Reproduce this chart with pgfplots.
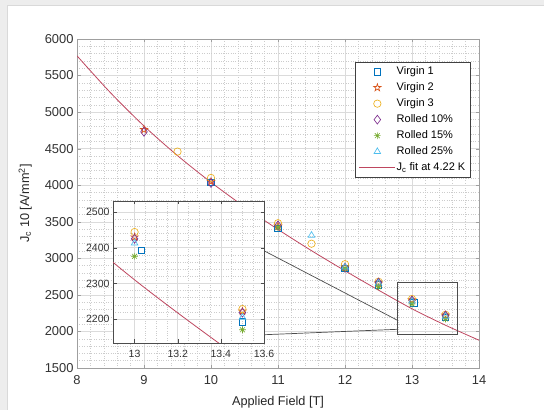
\documentclass[border=0pt]{standalone}
\usepackage{fontspec}
\setmainfont{Liberation Sans}
\usepackage{pgfplots}
\usepackage{pgfplotstable}
\pgfplotsset{compat=1.18}
\usetikzlibrary{plotmarks}

\definecolor{cA}{rgb}{0,0.447,0.741}
\definecolor{cB}{rgb}{0.85,0.325,0.098}
\definecolor{cC}{rgb}{0.929,0.694,0.125}
\definecolor{cD}{rgb}{0.494,0.184,0.556}
\definecolor{cE}{rgb}{0.466,0.674,0.188}
\definecolor{cF}{rgb}{0.301,0.745,0.933}
\definecolor{cFit}{RGB}{190,70,95}

\pgfdeclareplotmark{pentagram}{%
 \pgfpathmoveto{\pgfpointpolar{90}{1.25\pgfplotmarksize}}%
 \pgfpathlineto{\pgfpointpolar{126}{0.48\pgfplotmarksize}}%
 \pgfpathlineto{\pgfpointpolar{162}{1.25\pgfplotmarksize}}%
 \pgfpathlineto{\pgfpointpolar{198}{0.48\pgfplotmarksize}}%
 \pgfpathlineto{\pgfpointpolar{234}{1.25\pgfplotmarksize}}%
 \pgfpathlineto{\pgfpointpolar{270}{0.48\pgfplotmarksize}}%
 \pgfpathlineto{\pgfpointpolar{306}{1.25\pgfplotmarksize}}%
 \pgfpathlineto{\pgfpointpolar{342}{0.48\pgfplotmarksize}}%
 \pgfpathlineto{\pgfpointpolar{18}{1.25\pgfplotmarksize}}%
 \pgfpathlineto{\pgfpointpolar{54}{0.48\pgfplotmarksize}}%
 \pgfpathclose
 \pgfusepathqstroke
}
\pgfdeclareplotmark{mast}{%
 \pgfpathmoveto{\pgfqpoint{-\pgfplotmarksize}{0pt}}\pgfpathlineto{\pgfqpoint{\pgfplotmarksize}{0pt}}%
 \pgfpathmoveto{\pgfqpoint{0pt}{-\pgfplotmarksize}}\pgfpathlineto{\pgfqpoint{0pt}{\pgfplotmarksize}}%
 \pgfpathmoveto{\pgfpointpolar{45}{\pgfplotmarksize}}\pgfpathlineto{\pgfpointpolar{225}{\pgfplotmarksize}}%
 \pgfpathmoveto{\pgfpointpolar{135}{\pgfplotmarksize}}\pgfpathlineto{\pgfpointpolar{315}{\pgfplotmarksize}}%
 \pgfusepathqstroke
}

\pgfplotstableread{
x y
10 4040
11 3410
12 2860
12.5 2640
13.03 2392
13.5 2192
}\vone
\pgfplotstableread{
x y
9 4760
10 4050
11 3440
12 2880
12.5 2660
13 2430
13.5 2222
}\vtwo
\pgfplotstableread{
x y
9.5 4460
10 4100
11 3480
11.5 3200
12 2920
12.5 2680
13 2444
13.5 2228
}\vthree
\pgfplotstableread{
x y
9 4730
10 4030
11 3450
12 2870
12.5 2670
13 2425
13.5 2218
}\rten
\pgfplotstableread{
x y
11 3420
12 2860
12.5 2612
13 2376
13.5 2170
}\rfifteen
\pgfplotstableread{
x y
11.5 3315
12 2880
12.5 2660
13 2413
13.5 2205
}\rtwentyfive
\pgfplotstableread{
x y
8 5770
8.5 5265
9 4810
9.5 4405
10 4040
10.5 3705
11 3395
11.5 3105
12 2830
12.5 2565
13 2310
13.5 2085
14 1880
}\fit

\pgfplotsset{
  myplots/.style={
    /pgf/number format/assume math mode=true,
    /pgf/number format/1000 sep={},
    scale only axis,
    tick align=inside,
    minor tick length=0pt,
    major tick length=3.5pt,
    grid=both,
    major grid style={gray!28, line width=0.5pt},
    minor grid style={gray!40, dotted, line width=0.5pt},
    tick label style={text=black!80},
  },
  mA/.style={only marks, mark=square, mark size=3.2pt, cA, mark options={solid, line width=0.65pt}},
  mB/.style={only marks, mark=pentagram, mark size=3.1pt, cB, mark options={solid, line width=0.65pt}},
  mC/.style={only marks, mark=o, mark size=3.7pt, cC, mark options={solid, line width=0.65pt}},
  mD/.style={only marks, mark=diamond, mark size=4.4pt, cD, mark options={solid, line width=0.65pt}},
  mE/.style={only marks, mark=mast, mark size=3.4pt, cE, mark options={solid, line width=0.65pt}},
  mF/.style={only marks, mark=triangle, mark size=3.8pt, cF, mark options={solid, line width=0.65pt}},
  mFit/.style={no marks, smooth, color=cFit, line width=0.8pt},
}

\begin{document}
\begin{tikzpicture}
\useasboundingbox (0pt,0pt) rectangle (544pt,410pt);
\fill[gray!14] (0pt,0pt) rectangle (544pt,410pt);
\fill[white] (7.5pt,0pt) rectangle (544pt,404.5pt);
\draw[gray!30, line width=0.6pt] (7.5pt,0pt) -- (7.5pt,404.5pt) -- (544pt,404.5pt);

\begin{axis}[
  myplots,
  at={(77pt,42pt)}, anchor=south west,
  width=402pt, height=329pt,
  xmin=8, xmax=14, ymin=1500, ymax=6000,
  xtick={8,9,...,14}, ytick={1500,2000,...,6000},
  minor x tick num=4, minor y tick num=4,
  axis line style={gray!75},
  tick style={gray!75},
  tick label style={font=\fontsize{12.9}{14}\selectfont},
  xticklabel style={yshift=-4pt},
  xlabel={Applied Field [T]},
  ylabel={J\textsubscript{c} 10 [A/mm\textsuperscript{2}]},
  label style={font=\fontsize{12.7}{14}\selectfont, text=black!85},
  xlabel style={at={(axis description cs:0.5,-0.103)}, anchor=center},
  ylabel style={at={(axis description cs:-0.129,0.5)}, anchor=center},
  legend image code/.code={\draw[mark repeat=2,mark phase=2,#1] plot coordinates {(0pt,0pt) (18pt,0pt) (36pt,0pt)};},
  legend style={at={(axis description cs:0.9776,0.931)}, anchor=north east,
    font=\fontsize{11}{13}\selectfont, draw=black!75, fill=white,
    inner sep=3.5pt, row sep=3.5pt,
    nodes={inner sep=1pt, text height=8pt, text depth=2.5pt}},
  legend cell align=left,
]
\addplot[mA] table {\vone};
\addlegendentry{Virgin 1}
\addplot[mB] table {\vtwo};
\addlegendentry{Virgin 2}
\addplot[mC] table {\vthree};
\addlegendentry{Virgin 3}
\addplot[mD] table {\rten};
\addlegendentry{Rolled 10\%}
\addplot[mE] table {\rfifteen};
\addlegendentry{Rolled 15\%}
\addplot[mF] table {\rtwentyfive};
\addlegendentry{Rolled 25\%}
\addplot[mFit, legend image code/.code={\draw[draw=cFit, line width=0.8pt] (0pt,0pt) -- (36pt,0pt);}] table {\fit};
\addlegendentry{J\textsubscript{c} fit at 4.22 K}
\draw[black!70, line width=0.7pt] (axis cs:12.776,1955) rectangle (axis cs:13.676,2667);
\draw[black!70, line width=0.7pt] (axis cs:10.79,3104) -- (axis cs:12.776,2156);
\draw[black!70, line width=0.7pt] (axis cs:10.79,1955) -- (axis cs:12.776,2029);
\end{axis}

\begin{axis}[
  myplots,
  at={(113pt,67pt)}, anchor=south west,
  width=151pt, height=142pt,
  xmin=12.9, xmax=13.6, ymin=2133, ymax=2531,
  xtick={13,13.2,13.4,13.6}, ytick={2200,2300,2400,2500},
  minor x tick num=3, minor y tick num=4,
  axis background/.style={fill=white},
  axis line style={black!70, line width=0.7pt},
  tick style={black!70},
  tick label style={font=\fontsize{10.5}{12}\selectfont},
  xticklabel style={yshift=-3.5pt},
]
\addplot[mA] table {\vone};
\addplot[mB] table {\vtwo};
\addplot[mC] table {\vthree};
\addplot[mD] table {\rten};
\addplot[mE] table {\rfifteen};
\addplot[mF] table {\rtwentyfive};
\addplot[mFit] table {\fit};
\end{axis}
\end{tikzpicture}
\end{document}
